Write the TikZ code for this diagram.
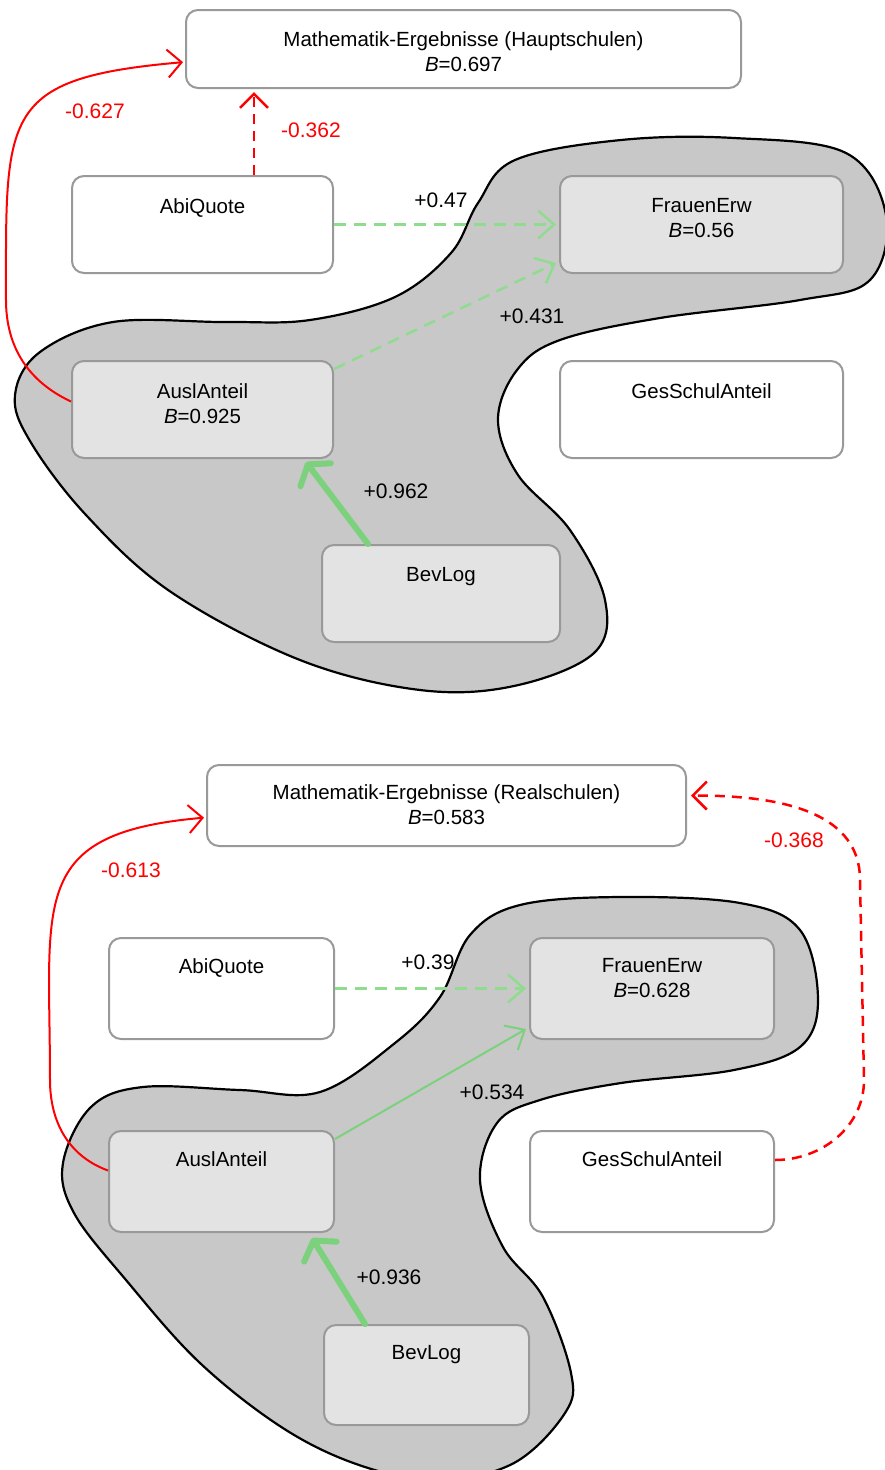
\documentclass[tikz,border=0pt]{standalone}
\usepackage{fontspec}
\setmainfont{Liberation Sans}
\usepackage{tikz}
\usetikzlibrary{positioning}
\usetikzlibrary{calc}
\usetikzlibrary{arrows.meta}

\definecolor{boxgray}{HTML}{999999}
\definecolor{boxfill}{HTML}{E3E3E3}
\definecolor{blobfill}{HTML}{C8C8C8}
\definecolor{posgreen}{HTML}{7CD17C}
\definecolor{palegreen}{HTML}{8FDC8F}

\tikzset{
	box/.style={draw=boxgray, line width=2pt, rounded corners=12pt, fill=white, inner sep=0pt},
	inbox/.style={box, fill=boxfill},
	txt/.style={inner sep=0pt, align=center, font=\fontsize{20.5}{25}\selectfont},
	lbl/.style={inner sep=0pt, font=\fontsize{21}{24}\selectfont},
	neglbl/.style={lbl, text=red},
	blob/.style={draw=black, line width=2.2pt, fill=blobfill},
	negpath/.style={draw=red, line width=2pt, -{Straight Barb[length=14pt,width=28pt]}},
	negdash/.style={negpath, line width=2.5pt, dash pattern=on 10pt off 7pt},
	posdash/.style={draw=palegreen, line width=2.5pt, dash pattern=on 12pt off 8pt, -{Straight Barb[length=16pt,width=28pt]}},
	posline/.style={draw=posgreen, line width=2pt, -{Straight Barb[length=16pt,width=28pt]}},
	posthick/.style={draw=posgreen, line width=6pt, line cap=round, -{Straight Barb[length=13pt,width=38pt,round]}}
}

\begin{document}
\begin{tikzpicture}[x=1pt, y=-1pt]
				\useasboundingbox (0,0) rectangle (885,1470);

				\draw[blob] plot[smooth cycle, tension=0.6] coordinates {
					(478,203) (515,160) (621,140) (734,138) (846,153) (886,215) (870,280)
					(800,300) (660,318) (560,340) (517,370) (498,420) (518,475) (570,530)
					(605,600) (594,653) (514,686) (420,690) (300,660) (171,592) (86,515)
					(30,441) (15,395) (40,352) (113,322) (226,322) (310,320) (395,297) (451,253)};

				\draw[blob] plot[smooth cycle, tension=0.6] coordinates {
					(520,905) (620,897) (740,903) (800,930) (818,1000) (800,1047) (734,1070)
					(621,1083) (540,1100) (497,1123) (480,1180) (503,1247) (543,1297)
					(571,1373) (565,1413) (514,1463) (440,1480) (365,1467) (286,1430)
					(200,1363) (126,1280) (74,1213) (63,1163) (91,1107) (143,1087)
					(240,1090) (320,1092) (395,1043) (440,997) (470,935)};

				\node[box, minimum width=555pt, minimum height=78pt] (math) at (463.5,49) {};
				\node[box, minimum width=261pt, minimum height=97pt] (abi) at (202.5,224.5) {};
				\node[inbox, minimum width=283pt, minimum height=97pt] (frauen) at (701.5,224.5) {};
				\node[inbox, minimum width=261pt, minimum height=97pt] (ausl) at (202.5,409.5) {};
				\node[box, minimum width=283pt, minimum height=97pt] (ges) at (701.5,409.5) {};
				\node[inbox, minimum width=238pt, minimum height=97pt] (bev) at (441,593.5) {};

				\node[txt, below=22pt of math.north] (mathtxt) {Mathematik-Ergebnisse (Hauptschulen)\\\textit{B}=0.697};
				\node[txt, below=23pt of abi.north] (abitxt) {AbiQuote};
				\node[txt, below=23pt of frauen.north] (frauentxt) {FrauenErw\\\textit{B}=0.56};
				\node[txt, below=23pt of ausl.north] (ausltxt) {AuslAnteil\\\textit{B}=0.925};
				\node[txt, below=23pt of ges.north] (gestxt) {GesSchulAnteil};
				\node[txt, below=23pt of bev.north] (bevtxt) {BevLog};

				\coordinate (abitop) at ([xshift=51.5pt]abi.north);
				\draw[negpath, shorten >=2pt] ([yshift=8pt]ausl.west) to[out=155,in=-90] (6,300) to[out=90,in=185,looseness=1.6] ([yshift=-13pt]math.west);
				\draw[negdash, shorten >=3pt] (abitop) -- (abitop |- math.south);
				\draw[posdash, shorten >=3pt] (abi.east) -- (frauen.west);
				\draw[posdash] ([yshift=-9pt]ausl.north east) -- ([xshift=-3pt,yshift=11pt]frauen.south west);
				\draw[posthick] ([xshift=-73pt]bev.north) -- ([xshift=-28pt,yshift=-3pt]ausl.south east);

				\node[neglbl] (l1) at (95,111) {-0.627};
				\node[neglbl] (l2) at (311,130) {-0.362};
				\node[lbl] (l3) at (441,200) {+0.47};
				\node[lbl] (l4) at (532,316) {+0.431};
				\node[lbl] (l5) at (396,491) {+0.962};

				\node[box, minimum width=479pt, minimum height=81pt] (math2) at (446.5,805.5) {};
				\node[box, minimum width=225pt, minimum height=101pt] (abi2) at (221.5,988.5) {};
				\node[inbox, minimum width=244pt, minimum height=101pt] (frauen2) at (652,988.5) {};
				\node[inbox, minimum width=225pt, minimum height=101pt] (ausl2) at (221.5,1181.5) {};
				\node[box, minimum width=244pt, minimum height=101pt] (ges2) at (652,1181.5) {};
				\node[inbox, minimum width=205pt, minimum height=100pt] (bev2) at (426.5,1375) {};

				\node[txt, below=20pt of math2.north] (math2txt) {Mathematik-Ergebnisse (Realschulen)\\\textit{B}=0.583};
				\node[txt, below=21pt of abi2.north] (abi2txt) {AbiQuote};
				\node[txt, below=21pt of frauen2.north] (frauen2txt) {FrauenErw\\\textit{B}=0.628};
				\node[txt, below=21pt of ausl2.north] (ausl2txt) {AuslAnteil};
				\node[txt, below=21pt of ges2.north] (ges2txt) {GesSchulAnteil};
				\node[txt, below=21pt of bev2.north] (bev2txt) {BevLog};

				\draw[negpath, shorten >=2pt] ([yshift=11pt]ausl2.west) to[out=160,in=-90] (50,1080) to[out=90,in=185,looseness=1.5] ([yshift=-12pt]math2.west);
				\draw[negdash, shorten >=4pt] ([yshift=21.5pt]ges2.east) to[out=0,in=-90] (864,1080) -- (860,880) to[out=90,in=0] ([yshift=10pt]math2.east);
				\draw[posdash, shorten >=3pt] (abi2.east) -- (frauen2.west);
				\draw[posline] ([yshift=-9pt]ausl2.north east) -- ([xshift=-3pt,yshift=11pt]frauen2.south west);
				\draw[posthick] ([xshift=-61.5pt]bev2.north) -- ([xshift=-23pt,yshift=-5pt]ausl2.south east);

				\node[neglbl] (l6) at (131,870) {-0.613};
				\node[neglbl] (l7) at (794,840) {-0.368};
				\node[lbl] (l8) at (428,962) {+0.39};
				\node[lbl] (l9) at (492,1092) {+0.534};
				\node[lbl] (l10) at (389,1277) {+0.936};

			\end{tikzpicture}
\end{document}
